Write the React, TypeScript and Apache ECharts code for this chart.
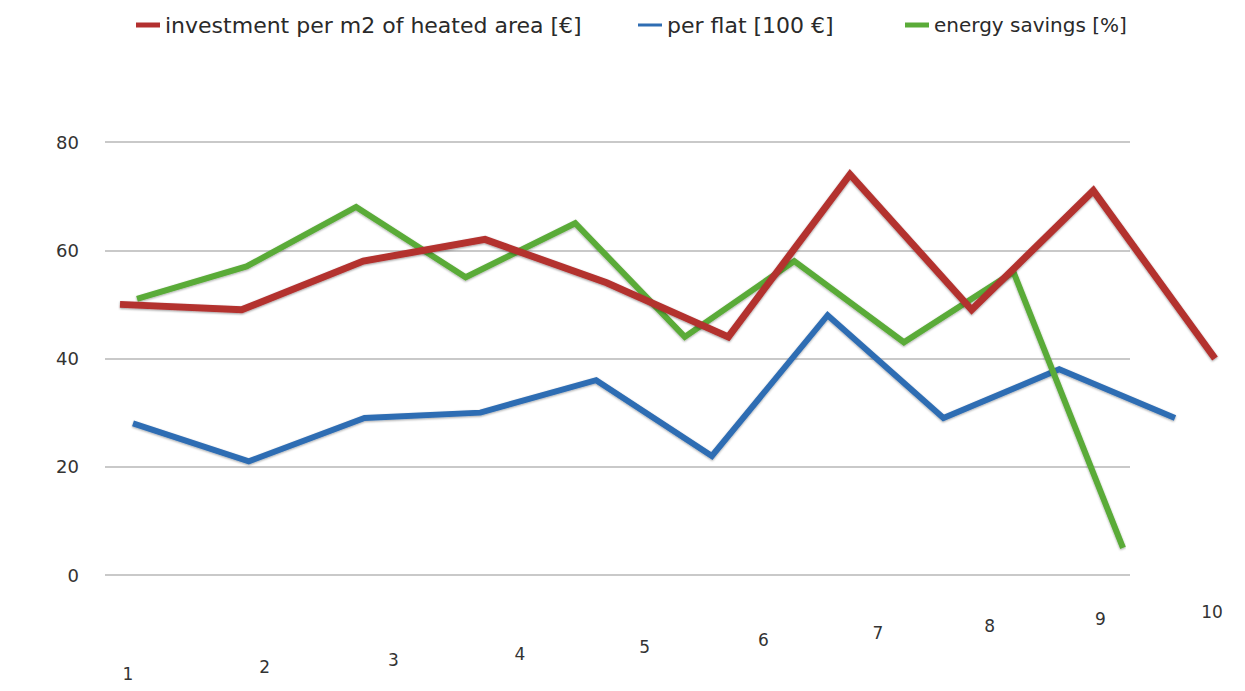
import React, { useEffect, useRef } from "react";
import * as echarts from "echarts";

// ---- data ----
const categories = ["1", "2", "3", "4", "5", "6", "7", "8", "9", "10"];
const investmentPerM2 = [50, 49, 58, 62, 54, 44, 74, 49, 71, 40];
const perFlat = [28, 21, 29, 30, 36, 22, 48, 29, 38, 29];
const energySavings = [51, 57, 68, 55, 65, 44, 58, 43, 56, 5];
const seriesNames = [
  "investment per m2 of heated area [€]",
  "per flat [100 €]",
  "energy savings [%]",
];
const yMin = 0;
const yMax = 80;
const yStep = 20;

// ---- layout / style (perspective imitation) ----
const labelDrop = [62, 55, 48, 42, 35, 28, 21, 14, 7, 0];
const labelShift = [8, 23, 30, 35, 38, 35, 28, 18, 7, -3];
const legendLeft = [131, 633, 900];
const legendFontSize = [22, 22, 20];
const FONT = "'DejaVu Sans', 'Liberation Sans', sans-serif";
const GRID_TOP = 142;
const GRID_H = 433;

export default function App() {
  const ref = useRef<HTMLDivElement>(null);

  useEffect(() => {
    if (!ref.current) return;
    const chart = echarts.init(ref.current, null, { renderer: "svg" });

    const rich: Record<string, any> = {};
    categories.forEach((_, i) => {
      const d = labelShift[i];
      rich["l" + i] = {
        fontSize: 17,
        fontFamily: FONT,
        color: "#333",
        padding: [labelDrop[i], Math.max(0, -2 * d), 0, Math.max(0, 2 * d)],
      };
    });

    const hiddenY = (gridIndex: number) => ({
      type: "value",
      gridIndex,
      min: yMin,
      max: yMax,
      interval: yStep,
      show: false,
      splitLine: { show: false },
    });
    const hiddenX = (gridIndex: number) => ({
      type: "category",
      gridIndex,
      data: categories,
      boundaryGap: false,
      show: false,
    });

    const legends = seriesNames.map((name, i) => ({
      top: i === 2 ? 10 : 9,
      left: legendLeft[i],
      icon: "rect",
      itemWidth: 24,
      itemHeight: i === 1 ? 3 : 5,
      data: [name],
      textStyle: {
        fontSize: legendFontSize[i],
        fontFamily: FONT,
        color: "#2a2a2a",
      },
    }));

    const option: any = {
      animation: false,
      backgroundColor: "#ffffff",
      legend: legends,
      grid: [
        { left: 105, right: 115, top: GRID_TOP, height: GRID_H }, // wall
        { left: 137, right: 122, top: GRID_TOP, height: GRID_H }, // green
        { left: 133, right: 70, top: GRID_TOP, height: GRID_H }, // blue
        { left: 120, right: 30, top: GRID_TOP, height: GRID_H }, // red
      ],
      xAxis: [
        hiddenX(0),
        hiddenX(1),
        hiddenX(2),
        {
          type: "category",
          gridIndex: 3,
          data: categories,
          boundaryGap: false,
          axisLine: { show: false },
          axisTick: { show: false },
          axisLabel: {
            margin: 28,
            interval: 0,
            formatter: (v: string, i: number) => `{l${i}|${v}}`,
            rich,
          },
        },
      ],
      yAxis: [
        {
          type: "value",
          gridIndex: 0,
          min: yMin,
          max: yMax,
          interval: yStep,
          axisLine: { show: false },
          axisTick: { show: false },
          axisLabel: {
            margin: 26,
            fontSize: 18,
            fontFamily: FONT,
            color: "#333",
          },
          splitLine: { show: true, lineStyle: { color: "#c9c9c9", width: 2 } },
        },
        hiddenY(1),
        hiddenY(2),
        hiddenY(3),
      ],
      series: [
        {
          name: seriesNames[1],
          type: "line",
          xAxisIndex: 2,
          yAxisIndex: 2,
          data: perFlat,
          showSymbol: false,
          color: "#2f6db3",
          z: 2,
          lineStyle: {
            width: 6,
            join: "miter",
            shadowColor: "rgba(0,0,0,0.35)",
            shadowBlur: 2,
            shadowOffsetY: 1,
          },
        },
        {
          name: seriesNames[2],
          type: "line",
          xAxisIndex: 1,
          yAxisIndex: 1,
          data: energySavings,
          showSymbol: false,
          color: "#5aab38",
          z: 3,
          lineStyle: {
            width: 6,
            join: "miter",
            shadowColor: "rgba(0,0,0,0.35)",
            shadowBlur: 2,
            shadowOffsetY: 1,
          },
        },
        {
          name: seriesNames[0],
          type: "line",
          xAxisIndex: 3,
          yAxisIndex: 3,
          data: investmentPerM2,
          showSymbol: false,
          color: "#b3302f",
          z: 4,
          lineStyle: {
            width: 7,
            join: "miter",
            shadowColor: "rgba(0,0,0,0.4)",
            shadowBlur: 2,
            shadowOffsetY: 1,
          },
        },
      ],
    };

    chart.setOption(option);
    return () => chart.dispose();
  }, []);

  return (
    <div
      ref={ref}
      style={{
        position: "absolute",
        left: 0,
        top: 0,
        width: 1245,
        height: 691,
        background: "#fff",
      }}
    />
  );
}
